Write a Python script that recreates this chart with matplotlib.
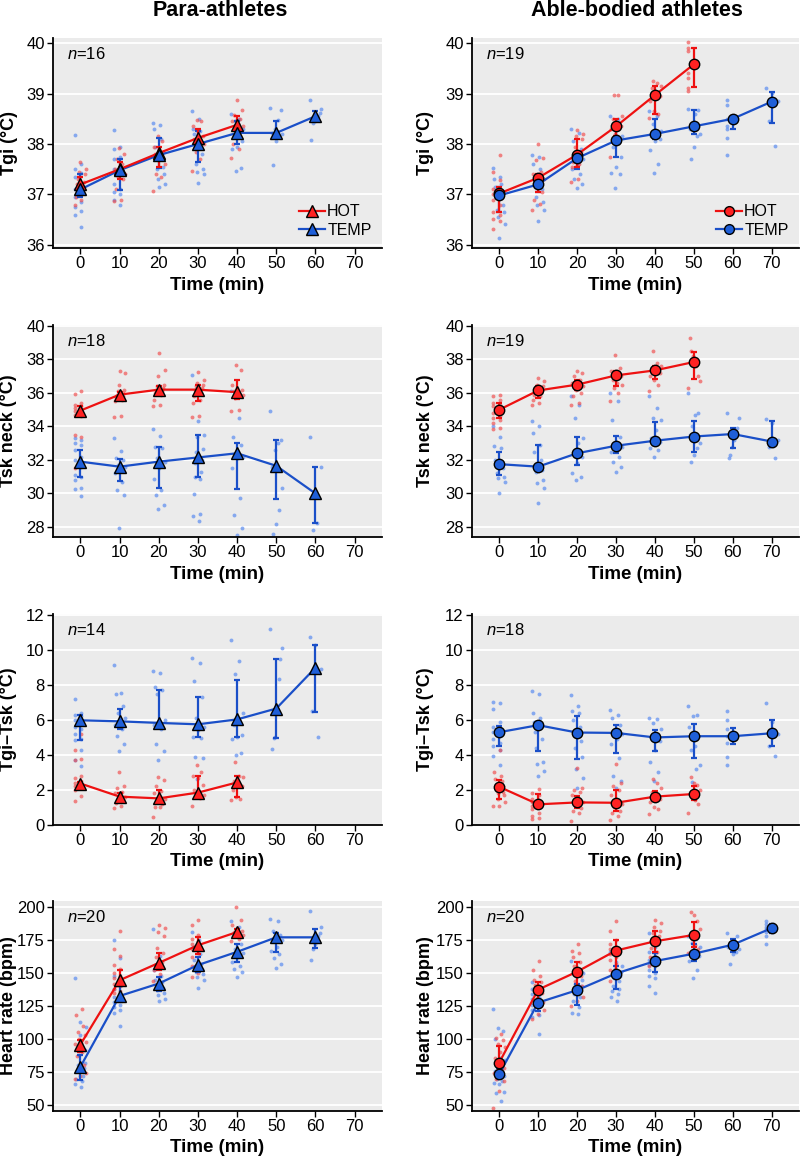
import numpy as np
import matplotlib
matplotlib.use('Agg')
import matplotlib.pyplot as plt

plt.rcParams['font.family'] = ['Liberation Sans', 'DejaVu Sans']
plt.rcParams['mathtext.fontset'] = 'custom'
plt.rcParams['mathtext.it'] = 'Liberation Sans:italic'
plt.rcParams['mathtext.rm'] = 'Liberation Sans'

times = [0, 10, 20, 30, 40, 50, 60, 70]

# ---- Para-athletes: Tgi ----
para_tgi_hot = [37.2, 37.5, 37.82, 38.12, 38.38]
para_tgi_hot_lo = [37.05, 37.3, 37.55, 37.9, 38.2]
para_tgi_hot_hi = [37.35, 37.65, 37.95, 38.3, 38.55]
para_tgi_temp = [37.1, 37.48, 37.78, 38.0, 38.22, 38.22, 38.55]
para_tgi_temp_lo = [36.95, 37.08, 37.52, 37.65, 38.0, 38.15, 38.45]
para_tgi_temp_hi = [37.4, 37.7, 38.12, 38.25, 38.45, 38.45, 38.65]
para_tgi_hot_pts = [
    [37.65, 37.5, 37.45, 37.4, 37.3, 37.25, 37.2, 37.15, 37.1, 37.0, 36.95, 36.9, 36.8],
    [37.92, 37.8, 37.7, 37.6, 37.5, 37.45, 37.4, 37.35, 37.3, 37.1, 36.9, 36.87],
    [38.15, 38.05, 37.95, 37.9, 37.85, 37.8, 37.7, 37.6, 37.4, 37.35, 37.07],
    [38.48, 38.45, 38.35, 38.25, 38.15, 38.1, 38.05, 38.0, 37.85, 37.7, 37.47],
    [38.88, 38.68, 38.57, 38.5, 38.45, 38.4, 38.35, 38.3, 38.25, 38.0, 37.9, 37.72],
]
para_tgi_temp_pts = [
    [38.18, 37.6, 37.5, 37.42, 37.35, 37.2, 37.1, 37.05, 36.95, 36.85, 36.75, 36.67, 36.6, 36.35],
    [38.28, 37.95, 37.9, 37.75, 37.7, 37.55, 37.5, 37.4, 37.2, 37.1, 37.05, 37.0, 36.9, 36.8],
    [38.42, 38.38, 38.3, 38.1, 37.95, 37.8, 37.7, 37.55, 37.5, 37.4, 37.3, 37.2, 37.15],
    [38.65, 38.5, 38.3, 38.25, 38.2, 38.0, 37.95, 37.8, 37.6, 37.5, 37.45, 37.4, 37.22],
    [38.6, 38.5, 38.45, 38.3, 38.2, 38.15, 38.05, 37.95, 37.9, 37.53, 37.47],
    [38.72, 38.68, 38.48, 38.3, 38.22, 38.2, 38.15, 38.05, 37.58],
    [38.88, 38.7, 38.62, 38.55, 38.5, 38.45, 38.42, 38.08],
]

# ---- Able-bodied: Tgi ----
able_tgi_hot = [37.02, 37.33, 37.79, 38.35, 38.97, 39.58]
able_tgi_hot_lo = [36.65, 37.05, 37.55, 38.15, 38.6, 39.12]
able_tgi_hot_hi = [37.15, 37.4, 38.1, 38.5, 39.15, 39.9]
able_tgi_temp = [36.98, 37.2, 37.72, 38.07, 38.2, 38.35, 38.5, 38.84]
able_tgi_temp_lo = [36.65, 37.05, 37.5, 37.75, 38.1, 38.2, 38.3, 38.42]
able_tgi_temp_hi = [37.15, 37.35, 37.85, 38.3, 38.5, 38.68, 38.55, 39.03]
able_tgi_hot_pts = [
    [37.78, 37.45, 37.28, 37.1, 37.05, 37.0, 36.95, 36.9, 36.8, 36.65, 36.6, 36.52, 36.48, 36.32],
    [38.0, 37.72, 37.68, 37.45, 37.4, 37.35, 37.3, 37.2, 37.05, 36.9, 36.82, 36.7],
    [38.28, 38.2, 38.15, 38.1, 37.95, 37.85, 37.8, 37.75, 37.65, 37.6, 37.55, 37.3, 37.25],
    [38.98, 38.97, 38.55, 38.5, 38.42, 38.35, 38.3, 38.2, 38.05, 37.75],
    [39.25, 39.2, 39.15, 39.1, 39.0, 38.95, 38.85, 38.65, 38.6, 38.52],
    [40.03, 39.9, 39.85, 39.4, 39.3, 39.1, 39.05],
]
able_tgi_temp_pts = [
    [37.52, 37.35, 37.3, 37.2, 37.15, 37.05, 36.95, 36.8, 36.7, 36.65, 36.55, 36.42, 36.13],
    [37.78, 37.75, 37.6, 37.5, 37.3, 37.2, 37.15, 37.1, 36.95, 36.85, 36.8, 36.7, 36.47],
    [38.3, 38.22, 38.05, 37.9, 37.75, 37.7, 37.6, 37.5, 37.4, 37.3, 37.2, 37.12],
    [38.55, 38.5, 38.3, 38.15, 38.05, 37.95, 37.75, 37.55, 37.42, 37.4, 37.12],
    [38.65, 38.55, 38.4, 38.25, 38.2, 38.15, 38.1, 38.05, 37.88, 37.6, 37.42],
    [38.7, 38.68, 38.6, 38.4, 38.3, 38.2, 38.15, 37.95, 37.7],
    [38.88, 38.78, 38.5, 38.35, 38.3, 38.12, 37.78],
    [39.1, 39.02, 38.85, 38.45, 37.97],
]

# ---- Para-athletes: Tsk neck ----
para_tsk_hot = [34.95, 35.9, 36.2, 36.2, 36.05]
para_tsk_hot_lo = [34.8, 35.7, 36.0, 35.5, 35.65]
para_tsk_hot_hi = [35.2, 36.05, 36.4, 36.5, 36.8]
para_tsk_temp = [31.9, 31.6, 31.9, 32.15, 32.4, 31.65, 30.0]
para_tsk_temp_lo = [31.0, 30.75, 30.3, 31.0, 30.25, 29.65, 28.25]
para_tsk_temp_hi = [32.6, 32.05, 32.75, 33.5, 33.0, 33.2, 31.6]
para_tsk_hot_pts = [
    [36.1, 35.95, 35.4, 35.3, 35.2, 35.1, 35.0, 34.9, 34.8, 34.7, 34.6, 33.5, 33.4, 31.55],
    [37.3, 37.2, 36.5, 36.2, 36.1, 36.0, 35.9, 35.8, 35.7, 35.6, 35.5, 34.6, 34.55],
    [38.4, 37.35, 37.0, 36.5, 36.4, 36.3, 36.2, 36.1, 36.0, 35.9, 35.6, 35.3, 35.2],
    [37.25, 36.75, 36.6, 36.5, 36.4, 36.3, 36.2, 36.0, 35.8, 35.6, 35.4, 34.65, 34.55],
    [37.65, 37.4, 36.5, 36.3, 36.2, 36.1, 36.0, 35.9, 35.7, 35.0, 34.9],
]
para_tsk_temp_pts = [
    [33.3, 33.2, 33.0, 32.9, 32.6, 32.2, 32.0, 31.6, 31.1, 31.0, 30.8, 30.3, 30.25, 29.85],
    [33.3, 32.55, 32.1, 32.0, 31.7, 31.6, 31.5, 31.2, 30.7, 30.2, 29.9, 27.95],
    [33.85, 33.45, 32.75, 32.7, 32.1, 31.9, 31.5, 30.85, 30.2, 29.9, 29.3, 29.1],
    [37.05, 34.3, 33.5, 33.35, 32.65, 32.5, 32.0, 31.8, 31.3, 31.0, 30.85, 29.95, 28.8, 28.65, 28.35],
    [36.1, 34.5, 33.35, 32.9, 32.3, 32.2, 32.1, 31.5, 29.7, 28.7, 27.95, 27.5],
    [34.9, 33.2, 33.0, 32.6, 31.6, 30.3, 29.0, 28.15, 27.55],
    [33.4, 31.6, 28.25, 27.8],
]

# ---- Able-bodied: Tsk neck ----
able_tsk_hot = [35.0, 36.15, 36.5, 37.05, 37.35, 37.85]
able_tsk_hot_lo = [34.5, 35.7, 36.2, 36.4, 36.85, 36.85]
able_tsk_hot_hi = [35.4, 36.4, 36.75, 37.3, 37.6, 38.45]
able_tsk_temp = [31.75, 31.6, 32.4, 32.85, 33.15, 33.4, 33.55, 33.1]
able_tsk_temp_lo = [31.1, 31.4, 31.7, 32.4, 32.9, 32.5, 32.7, 32.8]
able_tsk_temp_hi = [32.45, 32.9, 33.4, 33.45, 34.25, 34.3, 33.9, 34.35]
able_tsk_hot_pts = [
    [35.9, 35.8, 35.6, 35.4, 35.3, 35.2, 35.0, 34.8, 34.6, 34.5, 34.4, 34.2, 33.9, 33.85],
    [36.9, 36.7, 36.5, 36.4, 36.3, 36.2, 36.1, 36.0, 35.9, 35.8, 35.6, 35.4, 35.3],
    [37.3, 37.2, 37.0, 36.8, 36.6, 36.5, 36.4, 36.2, 36.0, 35.8, 35.4, 35.3],
    [38.25, 37.5, 37.3, 37.1, 37.0, 36.8, 36.6, 36.5, 36.3, 36.0, 35.5],
    [38.5, 37.8, 37.6, 37.4, 37.3, 37.2, 37.0, 36.8, 36.5, 36.1],
    [39.3, 38.5, 38.2, 37.8, 37.6, 37.0, 36.7, 36.3],
]
able_tsk_temp_pts = [
    [34.0, 33.4, 32.85, 32.7, 32.0, 31.9, 31.8, 31.5, 31.2, 31.0, 30.9, 30.7, 30.0],
    [34.3, 34.0, 33.6, 32.9, 32.5, 32.0, 31.6, 31.4, 31.3, 30.8, 30.6, 30.3, 29.45],
    [35.8, 35.3, 34.5, 33.3, 33.0, 32.5, 32.2, 31.8, 31.2, 31.0, 30.8],
    [36.0, 35.5, 34.4, 33.4, 33.0, 32.8, 32.6, 32.5, 32.2, 31.9, 31.6, 31.3],
    [35.8, 35.1, 34.5, 34.4, 33.8, 33.3, 33.1, 33.0, 32.7, 32.6, 32.2],
    [36.0, 34.8, 34.7, 34.0, 33.5, 33.0, 32.7, 32.3, 31.9],
    [34.8, 34.5, 33.9, 33.6, 33.2, 32.8, 32.3, 32.1],
    [34.45, 34.2, 33.2, 32.8, 32.1],
]

# ---- Para-athletes: Tgi-Tsk ----
para_grad_hot = [2.37, 1.62, 1.52, 1.85, 2.43]
para_grad_hot_lo = [2.2, 1.35, 1.3, 1.6, 1.6]
para_grad_hot_hi = [2.45, 1.85, 2.0, 2.8, 2.8]
para_grad_temp = [5.98, 5.92, 5.83, 5.75, 6.03, 6.65, 8.98]
para_grad_temp_lo = [4.85, 5.5, 5.65, 5.05, 5.0, 4.95, 6.45]
para_grad_temp_hi = [6.3, 6.65, 7.7, 7.3, 8.3, 9.5, 10.3]
para_grad_hot_pts = [
    [5.2, 4.3, 3.75, 3.7, 2.8, 2.7, 2.5, 2.4, 2.3, 2.2, 2.1, 2.0, 1.65, 1.35],
    [3.05, 2.25, 2.1, 1.9, 1.8, 1.7, 1.6, 1.5, 1.4, 1.25, 1.1, 0.95],
    [2.75, 2.55, 2.2, 1.95, 1.8, 1.6, 1.5, 1.35, 1.2, 1.05, 1.0, 0.45],
    [3.45, 3.05, 2.8, 2.7, 2.3, 2.0, 1.8, 1.7, 1.6, 1.55, 1.1],
    [3.6, 2.8, 2.75, 2.5, 2.35, 2.2, 2.0, 1.6, 1.5, 1.45],
]
para_grad_temp_pts = [
    [7.2, 6.4, 6.3, 6.2, 6.0, 5.8, 5.6, 5.5, 5.2, 4.9, 4.85, 4.3, 3.7, 3.35],
    [9.15, 7.55, 7.5, 6.8, 6.4, 6.1, 5.9, 5.7, 5.5, 5.1, 4.6, 4.25],
    [8.8, 8.7, 7.9, 7.7, 7.5, 6.0, 5.8, 5.7, 5.5, 4.6, 4.25, 3.7],
    [9.55, 9.25, 8.25, 7.3, 6.1, 5.6, 5.4, 5.0, 4.95, 3.9, 3.85, 2.6],
    [10.55, 9.35, 8.65, 6.4, 6.0, 5.7, 5.15, 5.0, 4.9, 4.1, 4.0],
    [11.2, 10.1, 9.5, 8.35, 6.6, 5.0, 4.95, 4.35],
    [10.75, 10.3, 8.9, 6.5, 5.0],
]

# ---- Able-bodied: Tgi-Tsk ----
able_grad_hot = [2.18, 1.18, 1.29, 1.27, 1.62, 1.77]
able_grad_hot_lo = [1.5, 1.0, 0.95, 0.8, 1.4, 1.45]
able_grad_hot_hi = [2.55, 1.75, 1.65, 2.0, 1.95, 2.2]
able_grad_temp = [5.3, 5.7, 5.28, 5.26, 5.0, 5.07, 5.07, 5.24]
able_grad_temp_lo = [4.5, 4.2, 3.75, 4.1, 4.2, 3.85, 4.65, 4.5]
able_grad_temp_hi = [5.65, 5.9, 6.25, 5.7, 5.45, 5.75, 5.55, 6.0]
able_grad_hot_pts = [
    [4.3, 3.0, 2.8, 2.6, 2.5, 2.3, 2.2, 2.0, 1.9, 1.8, 1.7, 1.5, 1.3, 1.1, 1.1],
    [2.05, 1.85, 1.7, 1.5, 1.4, 1.3, 1.2, 1.1, 1.0, 0.9, 0.7, 0.5, 0.4, 0.35],
    [3.25, 2.1, 2.0, 1.9, 1.7, 1.5, 1.3, 1.1, 0.95, 0.8, 0.7, 0.25],
    [3.5, 2.4, 2.2, 2.0, 1.7, 1.4, 1.2, 1.0, 0.8, 0.7, 0.5, 0.3],
    [2.6, 2.4, 2.1, 1.9, 1.7, 1.5, 1.3, 1.0, 0.9, 0.6],
    [2.75, 2.4, 2.3, 2.0, 1.8, 1.6, 1.4, 1.2, 0.7],
]
able_grad_temp_pts = [
    [7.05, 6.95, 6.6, 5.9, 5.6, 5.5, 5.3, 5.1, 4.9, 4.7, 4.5, 4.3, 3.95, 3.45],
    [7.65, 7.5, 6.4, 6.1, 5.9, 5.7, 5.3, 4.9, 4.4, 3.6, 3.5, 3.1, 2.8],
    [7.45, 6.8, 6.5, 6.4, 6.0, 5.6, 5.3, 4.8, 4.4, 3.9, 3.2, 2.7, 2.1],
    [6.55, 6.3, 6.1, 5.7, 5.4, 5.2, 4.9, 4.6, 3.8, 2.8, 2.5, 2.1],
    [6.1, 6.05, 5.8, 5.5, 5.2, 5.0, 4.8, 4.3, 3.6, 3.0, 2.5],
    [6.8, 6.3, 6.2, 5.6, 5.0, 4.5, 4.3, 3.4, 3.2, 2.45],
    [6.5, 6.0, 5.5, 5.1, 4.7, 3.9, 3.45],
    [6.95, 5.9, 5.2, 4.5, 3.95],
]

# ---- Para-athletes: heart rate ----
para_hr_hot = [95.8, 144.5, 157.6, 171, 181]
para_hr_hot_lo = [90, 140, 152, 164, 177]
para_hr_hot_hi = [99, 152, 165, 177, 183]
para_hr_temp = [79, 132.6, 142, 156, 166, 177, 177]
para_hr_temp_lo = [69, 128, 136, 151, 158, 166, 169]
para_hr_temp_hi = [88, 140, 147, 162, 172, 180, 183]
para_hr_hot_pts = [
    [123, 118, 110, 105, 103, 100, 98, 97, 96, 90, 87, 80, 76, 74, 72, 70],
    [182, 168, 163, 156, 153, 150, 148, 146, 144, 142, 140, 138, 136, 135],
    [186, 184, 181, 178, 169, 165, 162, 158, 156, 154, 152, 149, 144],
    [190, 186, 179, 176, 174, 172, 170, 168, 165, 162, 158, 155, 150, 147],
    [200, 190, 186, 184, 182, 181, 180, 179, 178, 176, 174],
]
para_hr_temp_pts = [
    [146, 113, 109, 103, 92, 88, 82, 80, 78, 76, 72, 70, 68, 66, 64],
    [175, 161, 148, 142, 138, 134, 132, 130, 128, 126, 124, 122, 120, 110],
    [183, 163, 152, 148, 145, 143, 141, 139, 137, 135, 133, 130, 129],
    [181, 175, 170, 164, 160, 157, 155, 153, 151, 149, 147, 145, 139],
    [189, 185, 178, 172, 168, 165, 162, 158, 155, 153, 151, 147],
    [191, 189, 182, 179, 177, 175, 170, 167, 164, 161, 157, 154],
    [197, 185, 180, 178, 176, 172, 168, 160],
]

# ---- Able-bodied: heart rate ----
able_hr_hot = [82.2, 137.4, 151, 167, 174, 178.8]
able_hr_hot_lo = [76, 127, 137, 150, 166, 170]
able_hr_hot_hi = [95, 143, 158, 175, 182, 188.5]
able_hr_temp = [73.5, 127.6, 137, 149.6, 159, 164.6, 171.4, 184]
able_hr_temp_lo = [72, 121, 126, 137.5, 151, 159, 166, 180]
able_hr_temp_hi = [78, 135, 142, 155, 165, 172, 176, 187]
able_hr_hot_pts = [
    [104, 101, 99, 96, 94, 90, 86, 82, 80, 78, 76, 74, 72, 70, 68, 61, 48],
    [159, 152, 148, 145, 143, 141, 139, 137, 135, 131, 128, 125, 122, 119, 115],
    [172, 167, 165, 162, 158, 155, 152, 150, 148, 144, 140, 136, 132, 129, 125],
    [189, 182, 175, 172, 170, 168, 166, 164, 162, 160, 157, 152, 148, 144],
    [190, 188, 185, 182, 180, 178, 175, 172, 169, 166, 162, 158, 155],
    [196, 194, 189, 183, 179, 176, 171, 168, 165],
]
able_hr_temp_pts = [
    [123, 108, 106, 100, 86, 84, 80, 78, 76, 74, 72, 70, 68, 67, 66, 60, 59, 53],
    [143, 140, 138, 136, 134, 132, 130, 128, 126, 124, 122, 118, 117, 104],
    [159, 153, 150, 148, 145, 142, 140, 138, 136, 134, 132, 129, 124, 120, 119],
    [166, 158, 155, 153, 151, 150, 148, 146, 144, 140, 138, 136, 134, 132, 129],
    [180, 170, 166, 163, 160, 158, 156, 155, 152, 150, 148, 146, 140, 135],
    [178, 176, 173, 170, 167, 165, 163, 161, 159, 152, 146],
    [180, 178, 175, 172, 170, 168, 166, 164, 157],
    [189, 187, 185, 183, 181, 178, 172],
]

col_titles = ['Para-athletes', 'Able-bodied athletes']
row_labels = ['Tgi (°C)', 'Tsk neck (°C)', 'Tgi\u2013Tsk (°C)', 'Heart rate (bpm)']
n_labels = [['16', '19'], ['18', '19'], ['14', '18'], ['20', '20']]
y_ticks = [[36, 37, 38, 39, 40], [28, 30, 32, 34, 36, 38, 40],
           [0, 2, 4, 6, 8, 10, 12], [50, 75, 100, 125, 150, 175, 200]]
y_lims = [(35.94, 40.1), (27.4, 40.06), (0, 12.05), (45.5, 204.5)]

panels = [
    [(para_tgi_hot, para_tgi_hot_lo, para_tgi_hot_hi, para_tgi_hot_pts,
      para_tgi_temp, para_tgi_temp_lo, para_tgi_temp_hi, para_tgi_temp_pts),
     (able_tgi_hot, able_tgi_hot_lo, able_tgi_hot_hi, able_tgi_hot_pts,
      able_tgi_temp, able_tgi_temp_lo, able_tgi_temp_hi, able_tgi_temp_pts)],
    [(para_tsk_hot, para_tsk_hot_lo, para_tsk_hot_hi, para_tsk_hot_pts,
      para_tsk_temp, para_tsk_temp_lo, para_tsk_temp_hi, para_tsk_temp_pts),
     (able_tsk_hot, able_tsk_hot_lo, able_tsk_hot_hi, able_tsk_hot_pts,
      able_tsk_temp, able_tsk_temp_lo, able_tsk_temp_hi, able_tsk_temp_pts)],
    [(para_grad_hot, para_grad_hot_lo, para_grad_hot_hi, para_grad_hot_pts,
      para_grad_temp, para_grad_temp_lo, para_grad_temp_hi, para_grad_temp_pts),
     (able_grad_hot, able_grad_hot_lo, able_grad_hot_hi, able_grad_hot_pts,
      able_grad_temp, able_grad_temp_lo, able_grad_temp_hi, able_grad_temp_pts)],
    [(para_hr_hot, para_hr_hot_lo, para_hr_hot_hi, para_hr_hot_pts,
      para_hr_temp, para_hr_temp_lo, para_hr_temp_hi, para_hr_temp_pts),
     (able_hr_hot, able_hr_hot_lo, able_hr_hot_hi, able_hr_hot_pts,
      able_hr_temp, able_hr_temp_lo, able_hr_temp_hi, able_hr_temp_pts)],
]

W, H = 800, 1157
col_x = [(53, 382), (472, 799)]
row_y = [(38, 248), (325, 537), (614, 825), (901, 1111)]

hot_line, hot_fill, hot_dot = '#EE1111', '#FF2222', '#F04848'
temp_line, temp_fill, temp_dot = '#1A4FC8', '#1F5FD8', '#4F84F0'

fig = plt.figure(figsize=(W / 100, H / 100), dpi=100)


def jitter(n):
    # fixed spread pattern across +/-1.5 min
    if n == 1:
        return np.zeros(1)
    k = (np.arange(n) * 7) % n
    return (k / (n - 1) - 0.5) * 3.0


for r in range(4):
    for c in range(2):
        x0, x1 = col_x[c]
        y0, y1 = row_y[r]
        ax = fig.add_axes([x0 / W, 1 - y1 / H, (x1 - x0) / W, (y1 - y0) / H])
        ax.set_facecolor('#EBEBEB')
        hot, hlo, hhi, hpts, temp, tlo, thi, tpts = panels[r][c]
        marker = '^' if c == 0 else 'o'
        ms = 8.5 if c == 0 else 7.5

        for i, pts in enumerate(tpts):
            ax.plot(times[i] + jitter(len(pts)), pts, 'o', color=temp_dot,
                    ms=2.8, mew=0, alpha=0.65, zorder=2)
        for i, pts in enumerate(hpts):
            ax.plot(times[i] + jitter(len(pts))[::-1], pts, 'o', color=hot_dot,
                    ms=2.8, mew=0, alpha=0.65, zorder=2)

        th = times[:len(hot)]
        tt = times[:len(temp)]
        ax.errorbar(tt, temp, yerr=[np.array(temp) - np.array(tlo), np.array(thi) - np.array(temp)],
                    fmt='none', ecolor=temp_line, elinewidth=1.6, capsize=2.5, capthick=1.6, zorder=3)
        ax.errorbar(th, hot, yerr=[np.array(hot) - np.array(hlo), np.array(hhi) - np.array(hot)],
                    fmt='none', ecolor=hot_line, elinewidth=1.6, capsize=2.5, capthick=1.6, zorder=3)
        ax.plot(tt, temp, '-', color=temp_line, lw=1.6, zorder=4)
        ax.plot(th, hot, '-', color=hot_line, lw=1.6, zorder=5)
        ax.plot(th, hot, marker, ls='none', mfc=hot_fill, mec='black', mew=1.0, ms=ms, zorder=6)
        ax.plot(tt, temp, marker, ls='none', mfc=temp_fill, mec='black', mew=1.0, ms=ms, zorder=7)

        if r == 0:
            h1, = ax.plot([], [], '-', color=hot_line, lw=1.6, marker=marker,
                          mfc=hot_fill, mec='black', mew=1.0, ms=ms - 0.5)
            h2, = ax.plot([], [], '-', color=temp_line, lw=1.6, marker=marker,
                          mfc=temp_fill, mec='black', mew=1.0, ms=ms - 0.5)
            ax.legend([h1, h2], ['HOT', 'TEMP'], loc='lower right', frameon=False,
                      fontsize=11.5, handlelength=1.6, handletextpad=0.15,
                      labelspacing=0.2, borderaxespad=0.25)

        ax.set_xlim(-7, 77)
        ax.set_ylim(*y_lims[r])
        ax.set_xticks(times)
        ax.set_yticks(y_ticks[r])
        ax.grid(axis='y', color='white', lw=1.3, zorder=0)
        ax.set_axisbelow(True)
        for s in ['top', 'right']:
            ax.spines[s].set_visible(False)
        for s in ['left', 'bottom']:
            ax.spines[s].set_color('black')
            ax.spines[s].set_linewidth(1.3)
        ax.tick_params(axis='both', direction='out', length=4, width=1.0,
                       colors='black', labelsize=12, pad=2)

        ax.set_xlabel('Time (min)', fontsize=13.5, fontweight='bold')
        ax.xaxis.set_label_coords(0.5, -37 / (y1 - y0))
        ax.xaxis.label.set_verticalalignment('center')
        ax.set_ylabel(row_labels[r], fontsize=13, fontweight='bold')
        ax.yaxis.set_label_coords((9 + (416 if c else 0) - x0) / (x1 - x0), 0.5)
        ax.yaxis.label.set_verticalalignment('center')

        ax.text(14 / (x1 - x0), 1 - 16 / (y1 - y0), '$n$=' + n_labels[r][c],
                transform=ax.transAxes, ha='left', va='center', fontsize=12)

fig.text(220 / W, 1 - 11 / H, col_titles[0], ha='center', va='center',
         fontsize=15.5, fontweight='bold')
fig.text(637 / W, 1 - 11 / H, col_titles[1], ha='center', va='center',
         fontsize=15.5, fontweight='bold')

fig.savefig('out.png', dpi=100)
